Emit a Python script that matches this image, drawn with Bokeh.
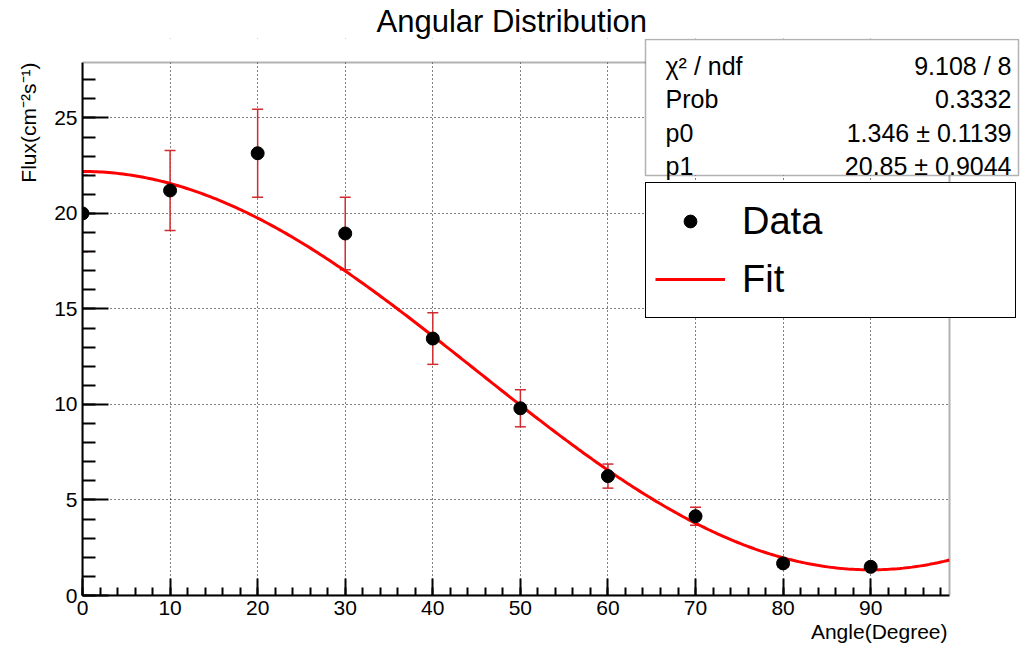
import numpy as np
from bokeh.plotting import figure
from bokeh.models import (Range1d, Whisker, ColumnDataSource, TeeHead, Label,
                          BoxAnnotation, Legend, LegendItem, FixedTicker, Title)
from bokeh.embed import file_html
from bokeh.resources import INLINE

# ---- data ----
angles = [0, 10, 20, 30, 40, 50, 60, 70, 80, 90]
flux = [20.0, 21.2, 23.15, 18.95, 13.45, 9.8, 6.25, 4.15, 1.68, 1.5]
flux_err = [2.0, 2.1, 2.3, 1.9, 1.35, 0.97, 0.63, 0.47, 0.2, 0.18]
fit_p0 = 1.346
fit_p1 = 20.85
x_ticks = [0, 10, 20, 30, 40, 50, 60, 70, 80, 90]
y_ticks = [0, 5, 10, 15, 20, 25]
stats_names = ["χ² / ndf", "Prob", "p0", "p1"]
stats_values = ["9.108 / 8", "0.3332", "1.346 ± 0.1139", "20.85 ± 0.9044"]

FONT = "Liberation Sans"
X_MAX, Y_MAX = 99.0, 27.9

# ---- layout (pixels on the canvas) ----
W, H = 1020, 645
FR_L, FR_R, FR_T, FR_B = 82, 1020, 38, 595   # bokeh frame
PLOT_R, PLOT_T = 949, 62                      # visible plot box edges
x_end = X_MAX * (FR_R - FR_L) / (PLOT_R - FR_L)
y_end = Y_MAX * (FR_B - FR_T) / (FR_B - PLOT_T)

def sx(X):
    return X - FR_L

def sy(Y):
    return FR_B - Y

p = figure(width=W, height=H, output_backend="svg", toolbar_location=None,
           x_range=Range1d(0, x_end), y_range=Range1d(0, y_end),
           min_border_left=FR_L, min_border_right=W - FR_R,
           min_border_top=FR_T, min_border_bottom=H - FR_B)
p.background_fill_color = "white"
p.border_fill_color = "white"
p.outline_line_color = None

p.title.text = "Angular Distribution"
p.title.align = "left"
p.title.offset = 294
p.title.text_font = FONT
p.title.text_font_size = "31px"
p.title.text_font_style = "normal"
p.title.text_color = "black"
p.title.standoff = 0

xa = p.xaxis[0]
ya = p.yaxis[0]
xa.ticker = FixedTicker(ticks=x_ticks, minor_ticks=list(range(0, 100, 2)))
ya.ticker = FixedTicker(ticks=y_ticks, minor_ticks=list(range(0, 28)))
xa.bounds = (0, X_MAX)
ya.bounds = (0, Y_MAX)
for ax in (xa, ya):
    ax.axis_line_width = 2
    ax.axis_line_color = "black"
    ax.major_tick_line_width = 2
    ax.minor_tick_line_width = 2
    ax.major_tick_line_color = "black"
    ax.minor_tick_line_color = "black"
    ax.major_tick_out = 0
    ax.minor_tick_out = 0
    ax.major_label_text_font = FONT
    ax.major_label_text_font_size = "21px"
    ax.major_label_text_color = "black"
    ax.major_label_standoff = 5
xa.major_tick_in = 17
xa.minor_tick_in = 8
ya.major_tick_in = 26
ya.minor_tick_in = 13

for g in (p.xgrid[0], p.ygrid[0]):
    g.grid_line_color = "black"
    g.grid_line_dash = "1 3"
    g.grid_line_width = 1

# axis titles
p.add_layout(Title(text="Angle(Degree)", align="right", offset=73, standoff=1,
                   text_font=FONT, text_font_size="21px",
                   text_font_style="normal", text_color="black"), "below")
p.add_layout(Title(text="Flux(cm⁻²s⁻¹)", align="right", offset=24, standoff=24,
                   text_font=FONT, text_font_size="21px",
                   text_font_style="normal", text_color="black"), "left")

# error bars
src = ColumnDataSource(dict(x=angles, y=flux,
                            upper=[f + e for f, e in zip(flux, flux_err)],
                            lower=[f - e for f, e in zip(flux, flux_err)]))
ecol = "#d02c30"
p.add_layout(Whisker(base="x", upper="upper", lower="lower", source=src,
                     line_color=ecol, line_width=1.5,
                     upper_head=TeeHead(size=11, line_color=ecol, line_width=1.5),
                     lower_head=TeeHead(size=11, line_color=ecol, line_width=1.5)))

# fit curve (from the fit parameters)
xs = np.linspace(0, X_MAX, 300)
ys = fit_p0 + fit_p1 * np.cos(np.radians(xs)) ** 2
fit_r = p.line(xs, ys, line_color="red", line_width=3)

pts = p.scatter("x", "y", source=src, size=13, color="black")

# white covers outside the plot box (right margin and above)
p.add_layout(BoxAnnotation(left=X_MAX, fill_color="white", fill_alpha=1.0,
                           line_color=None))
p.add_layout(BoxAnnotation(right=X_MAX, bottom=Y_MAX, fill_color="white",
                           fill_alpha=1.0, line_color=None))
# plot box outline
p.add_layout(BoxAnnotation(left=0, right=X_MAX, bottom=0, top=Y_MAX,
                           fill_alpha=0, line_color="black", line_width=2))

# stats box
p.add_layout(BoxAnnotation(left=sx(645), right=sx(1018), bottom=sy(175), top=sy(39),
                           left_units="screen", right_units="screen",
                           bottom_units="screen", top_units="screen",
                           fill_color="white", fill_alpha=1.0,
                           line_color="black", line_width=1.5))
baselines = [65, 98.5, 132, 165.5]
for name, val, b in zip(stats_names, stats_values, baselines):
    p.add_layout(Label(x=sx(665), y=sy(b), x_units="screen", y_units="screen",
                       text=name, text_font=FONT, text_font_size="25px",
                       text_color="black",
                       text_align="left", text_baseline="alphabetic"))
    p.add_layout(Label(x=sx(1011), y=sy(b), x_units="screen", y_units="screen",
                       text=val, text_font=FONT, text_font_size="25px",
                       text_color="black",
                       text_align="right", text_baseline="alphabetic"))

legend = Legend(items=[LegendItem(label="Data", renderers=[pts]),
                       LegendItem(label="Fit", renderers=[fit_r])],
                location=(sx(645), sy(318)), orientation="vertical",
                label_text_font=FONT, label_text_font_size="38px",
                label_text_color="black",
                glyph_width=70, glyph_height=32, label_height=58,
                label_width=264, label_standoff=17, padding=9, spacing=0,
                margin=0, border_line_color="black", border_line_width=1.5,
                border_line_alpha=1.0,
                background_fill_color="white", background_fill_alpha=1.0)
p.add_layout(legend)

open("out.html", "w").write(file_html(p, INLINE))
